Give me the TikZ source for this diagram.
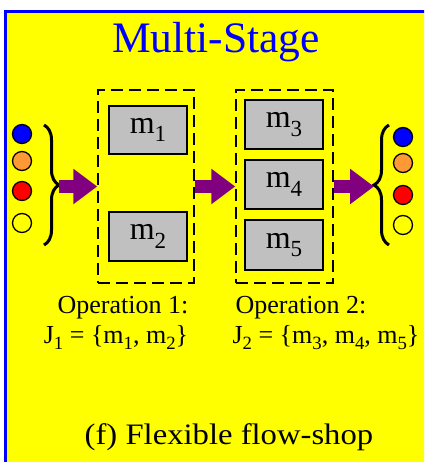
\documentclass[tikz,border=0pt]{standalone}
\usepackage{fontspec}
\setmainfont{Liberation Serif}
\newfontfamily\camfont[FakeStretch=1.1]{Liberation Serif}
\usetikzlibrary{arrows.meta,decorations.pathreplacing}
\definecolor{bgyellow}{RGB}{255,255,0}
\definecolor{frameblue}{RGB}{0,0,255}
\definecolor{jorange}{RGB}{255,153,51}
\definecolor{jred}{RGB}{255,0,0}
\definecolor{flowpurple}{RGB}{128,0,128}
\definecolor{machgray}{RGB}{192,192,192}
\newcommand{\lowsub}[1]{\raisebox{-0.26em}{\scalebox{0.72}{#1}}}
\tikzset{
  opbox/.style={draw=black, line width=1.5pt, dash pattern=on 12pt off 6pt, minimum height=193pt, inner sep=0pt},
  machine/.style={draw=black, line width=2.6pt, fill=machgray, minimum width=78pt, minimum height=48pt, inner sep=0pt, font=\fontsize{32}{34}\selectfont},
  job/.style={circle, draw=black, line width=1.3pt, minimum size=19pt, inner sep=0pt},
  bracestyle/.style={decorate, decoration={brace, amplitude=15pt}, line width=3pt},
  flowarrow/.style={flowpurple, line width=13pt, -{Triangle[length=24pt,width=34pt]}},
  optext/.style={anchor=base, font=\fontsize{26}{30}\selectfont, inner sep=0pt}
}
\begin{document}
\begin{tikzpicture}[x=1pt,y=-1pt]
\useasboundingbox (0,0) rectangle (424,462);
\clip (0,0) rectangle (424,462);
\fill[white] (0,0) rectangle (424,462);
\draw[frameblue, line width=3pt, fill=bgyellow] (5.5,11.5) rectangle (440,480);

\node[anchor=base, text=frameblue, inner sep=0pt, font=\fontsize{43.5}{48}\selectfont] (title) at (216,53) {Multi-Stage};

% operation groups
\node[opbox, minimum width=96pt] (op1) at (146,186.5) {};
\node[opbox, minimum width=97pt] (op2) at (284.5,186.5) {};

% machines
\node[machine] (m1) at (148,130) {m\lowsub{1}};
\node[machine, minimum height=49pt] (m2) at (148,236.5) {m\lowsub{2}};
\node[machine, minimum height=49pt] (m3) at (284,124.5) {m\lowsub{3}};
\node[machine, minimum height=49pt] (m4) at (284,184.5) {m\lowsub{4}};
\node[machine, minimum height=50pt] (m5) at (284,245) {m\lowsub{5}};

% jobs left
\node[job, fill=frameblue] (l1) at (22,134) {};
\node[job, fill=jorange] (l2) at (22,161) {};
\node[job, fill=jred] (l3) at (22,191) {};
\node[job] (l4) at (22,223) {};
% jobs right
\node[job, fill=frameblue] (r1) at (403,137) {};
\node[job, fill=jorange] (r2) at (403,163) {};
\node[job, fill=jred] (r3) at (403,195) {};
\node[job] (r4) at (403,225) {};

% braces
\coordinate (lbtop) at (44,125);
\coordinate (lbbot) at (44,245);
\draw[bracestyle] (lbtop) -- (lbbot);
\coordinate (lbtip) at (59,186.5);
\coordinate (rbtop) at (389,125);
\coordinate (rbbot) at (389,245);
\draw[bracestyle] (rbbot) -- (rbtop);
\coordinate (rbtip) at (374,186.5);

% flow arrows
\draw[flowarrow] (lbtip) -- (op1.west);
\draw[flowarrow] (op1.east) -- (op2.west);
\draw[flowarrow] (op2.east) -- (rbtip);

% labels
\node[optext] (o1a) at (123,313) {Operation 1:};
\node[optext] (o1b) at (116,343) {J\lowsub{1} = \{m\lowsub{1}, m\lowsub{2}\}};
\node[optext] (o2a) at (301,313) {Operation 2:};
\node[optext] (o2b) at (326,343) {J\lowsub{2} = \{m\lowsub{3}, m\lowsub{4}, m\lowsub{5}\}};

\node[anchor=base, inner sep=0pt, font=\camfont\fontsize{29.7}{33}\selectfont] (cap) at (229,444) {(f) Flexible flow-shop};
\end{tikzpicture}
\end{document}
